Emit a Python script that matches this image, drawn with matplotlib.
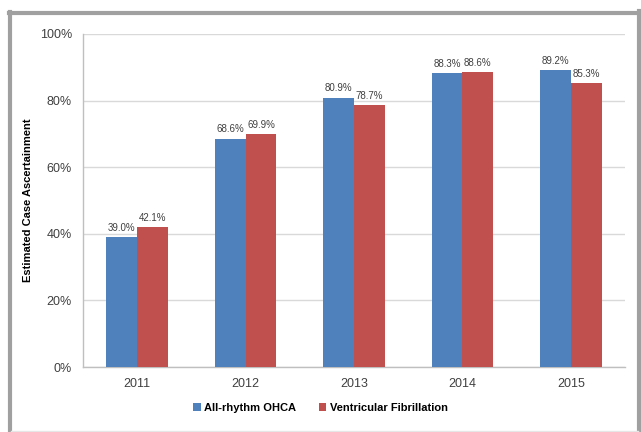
import matplotlib
matplotlib.use("Agg")
import matplotlib.pyplot as plt
from matplotlib.lines import Line2D
import numpy as np

years = ["2011", "2012", "2013", "2014", "2015"]
all_rhythm = [39.0, 68.6, 80.9, 88.3, 89.2]
vf = [42.1, 69.9, 78.7, 88.6, 85.3]
series_names = ["All-rhythm OHCA", "Ventricular Fibrillation"]
yticks = [0, 20, 40, 60, 80, 100]

plt.rcParams['font.family'] = ['Liberation Sans', 'DejaVu Sans']

fig = plt.figure(figsize=(6.41, 4.32), dpi=100)
W, H = 641, 432
ax = fig.add_axes([83 / W, 1 - 367 / H, (625 - 83) / W, (367 - 34) / H])

x = np.arange(len(years))
bw = 0.285
blue = "#4F81BD"
red = "#C0504D"
b1 = ax.bar(x - bw / 2, all_rhythm, bw, color=blue, label=series_names[0], zorder=3)
b2 = ax.bar(x + bw / 2, vf, bw, color=red, label=series_names[1], zorder=3)

for rect, v in zip(b1, all_rhythm):
    ax.annotate(f"{v:.1f}%", (rect.get_x() + rect.get_width() / 2, v),
                xytext=(0, 3), textcoords="offset points", ha="center", va="bottom",
                fontsize=7, color="#404040")
for rect, v in zip(b2, vf):
    ax.annotate(f"{v:.1f}%", (rect.get_x() + rect.get_width() / 2, v),
                xytext=(0, 3), textcoords="offset points", ha="center", va="bottom",
                fontsize=7, color="#404040")

ax.set_xlim(-0.5, 4.5)
ax.set_ylim(0, 100)
ax.set_yticks(yticks)
ax.set_yticklabels([f"{t}%" for t in yticks], fontsize=9, color="#404040")
ax.set_xticks(x)
ax.set_xticklabels(years, fontsize=9, color="#404040")
ax.tick_params(axis="both", length=0, pad=8)
ax.yaxis.grid(True, color="#D9D9D9", linewidth=1, zorder=0)
ax.set_axisbelow(True)
for s in ["top", "right"]:
    ax.spines[s].set_visible(False)
for s in ["left", "bottom"]:
    ax.spines[s].set_color("#BFBFBF")
    ax.spines[s].set_linewidth(1)
ax.set_ylabel("Estimated Case Ascertainment", fontsize=8, fontweight="bold")
ax.yaxis.set_label_coords((33 - 83) / (625 - 83), 0.5)

fig.legend(handles=[b1, b2], labels=series_names, loc="center",
           bbox_to_anchor=(0.5, 1 - 408 / H), ncol=2, frameon=False,
           prop={"weight": "bold", "size": 8}, handlelength=0.7, handleheight=0.7,
           handletextpad=0.3, columnspacing=2.0)

# outer frame
def fx(px):
    return px / W

def fy(py):
    return 1 - py / H

frame_color = "#A0A0A0"
fig.add_artist(Line2D([fx(10), fx(10)], [fy(12), fy(432)], transform=fig.transFigure,
                      color=frame_color, linewidth=3))
fig.add_artist(Line2D([fx(8.5), fx(641)], [fy(12.5), fy(12.5)], transform=fig.transFigure,
                      color=frame_color, linewidth=3))
fig.add_artist(Line2D([fx(639), fx(639)], [fy(11), fy(432)], transform=fig.transFigure,
                      color=frame_color, linewidth=3))
fig.add_artist(Line2D([fx(11), fx(638)], [fy(430.5), fy(430.5)], transform=fig.transFigure,
                      color="#E6E6E6", linewidth=1))

fig.savefig("out.png", dpi=100)
